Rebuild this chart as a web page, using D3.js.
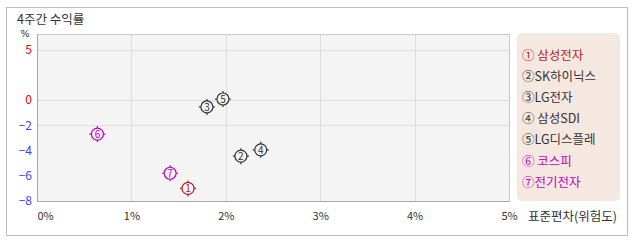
<!DOCTYPE html>
<html>
<head>
<meta charset="utf-8">
<script src="https://cdn.jsdelivr.net/npm/d3@7"></script>
<style>
  body { margin: 0; background: #fff; }
  svg { display: block; font-family: "Noto Sans CJK KR", "DejaVu Sans", sans-serif; }
</style>
</head>
<body>
<svg id="chart" width="638" height="242"></svg>
<script>
var names = ["삼성전자", "SK하이닉스", "LG전자", "삼성SDI", "LG디스플레",  "코스피", "전기전자"];
var risk = [1.60, 2.16, 1.80, 2.37, 1.97, 0.64, 1.41];
var ret = [-7.0, -4.45, -0.55, -3.95, 0.1, -2.7, -5.8];
var colors = ["#b21e1e", "#333333", "#333333", "#333333", "#333333", "#c000c0", "#c000c0"];
var circled = ["①", "②", "③", "④", "⑤", "⑥", "⑦"];
var xTicks = [0, 1, 2, 3, 4, 5];
var yTicks = [5, 0, -2, -4, -6, -8];
var yGrid = [5, 0, -2];

var svg = d3.select("#chart");

svg.append("rect")
    .attr("x", 6.5).attr("y", 7.5)
    .attr("width", 621).attr("height", 228)
    .attr("fill", "#fff")
    .attr("stroke", "#bdbdbd");

svg.append("text")
    .attr("x", 17).attr("y", 24)
    .attr("font-size", 12.5)
    .attr("fill", "#333")
    .text("4주간 수익률");

var pLeft = 37, pRight = 509, pTop = 34, pBottom = 201;

var x = d3.scaleLinear().domain([0, 5]).range([pLeft, pRight]);
// y axis is not uniform in the picture: positive side squeezed
var y = d3.scaleLinear().domain([-8, 0, 5]).range([pBottom, 100, 50]);

var g = svg.append("g");

g.append("rect")
    .attr("x", pLeft + 0.5).attr("y", pTop + 0.5)
    .attr("width", pRight - pLeft).attr("height", pBottom - pTop)
    .attr("fill", "#f4f4f4")
    .attr("stroke", "#c8c8c8");

g.selectAll(".vgrid")
    .data(xTicks.slice(1, -1))
  .enter().append("line")
    .attr("x1", function(d) { return Math.round(x(d)) + 0.5; })
    .attr("x2", function(d) { return Math.round(x(d)) + 0.5; })
    .attr("y1", pTop).attr("y2", pBottom)
    .attr("stroke", "#dcdcdc");

g.selectAll(".hgrid")
    .data(yGrid)
  .enter().append("line")
    .attr("x1", pLeft).attr("x2", pRight)
    .attr("y1", function(d) { return Math.round(y(d)) + 0.5; })
    .attr("y2", function(d) { return Math.round(y(d)) + 0.5; })
    .attr("stroke", "#dcdcdc");

// darker left / bottom edge
g.append("path")
    .attr("d", "M" + (pLeft + 0.5) + "," + pTop + "V" + (pBottom + 0.5) + "H" + pRight)
    .attr("fill", "none")
    .attr("stroke", "#a8a8a8");

var xAxis = svg.append("g")
    .attr("transform", "translate(0," + pBottom + ")")
    .call(d3.axisBottom(x).tickValues(xTicks).tickSize(0).tickPadding(11)
      .tickFormat(function(d) { return d + "%"; }));
xAxis.select(".domain").remove();
xAxis.selectAll("text")
    .attr("font-size", 11)
    .attr("fill", "#333")
    .style("font-family", "\"Noto Sans CJK KR\", sans-serif")
    .attr("text-anchor", function(d) { return d === 0 ? "start" : "middle"; });

var yAxis = svg.append("g")
    .attr("transform", "translate(" + pLeft + ",0)")
    .call(d3.axisLeft(y).tickValues(yTicks).tickSize(0).tickPadding(5)
      .tickFormat(function(d) { return d < 0 ? "\u2212" + (-d) : d; }));
yAxis.select(".domain").remove();
yAxis.selectAll("text")
    .attr("font-size", 12)
    .style("font-family", "\"Noto Sans CJK KR\", sans-serif")
    .attr("fill", function(d) { return d >= 0 ? "#f00000" : "#4040ff"; });

svg.append("text")
    .attr("x", 25).attr("y", 37)
    .attr("text-anchor", "middle")
    .attr("font-size", 9.5)
    .style("font-family", "\"DejaVu Sans\", sans-serif")
    .attr("fill", "#333")
    .text("%");

svg.append("text")
    .attr("x", 528).attr("y", 221)
    .attr("font-size", 12.5)
    .attr("fill", "#333")
    .text("표준편차(위험도)");

// markers
var pts = svg.selectAll(".pt")
    .data(names)
  .enter().append("g")
    .attr("transform", function(d, i) { return "translate(" + x(risk[i]) + "," + y(ret[i]) + ")"; });

pts.append("circle")
    .attr("r", 6)
    .attr("fill", "#f4f4f4")
    .attr("stroke", function(d, i) { return colors[i]; })
    .attr("stroke-width", 1.2);

pts.append("path")
    .attr("d", "M0,-6V-8M0,6V8M-6,0H-8M6,0H8")
    .attr("stroke", function(d, i) { return colors[i]; })
    .attr("stroke-width", 1.2);

pts.append("text")
    .attr("y", 4)
    .attr("text-anchor", "middle")
    .attr("font-size", 10)
    .attr("fill", function(d, i) { return colors[i]; })
    .text(function(d, i) { return i + 1; });

// legend
svg.append("rect")
    .attr("x", 517).attr("y", 33)
    .attr("width", 103).attr("height", 168)
    .attr("rx", 5)
    .attr("fill", "#f5e8e1");

svg.selectAll(".leg")
    .data(names)
  .enter().append("text")
    .attr("x", 522)
    .attr("y", function(d, i) { return 59.5 + i * 21.2; })
    .attr("font-size", 12.5)
    .attr("fill", function(d, i) { return colors[i]; })
    .text(function(d, i) { return circled[i] + (i === 0 || i === 3 || i === 5 ? " " : "") + d; });
</script>
</body>
</html>
